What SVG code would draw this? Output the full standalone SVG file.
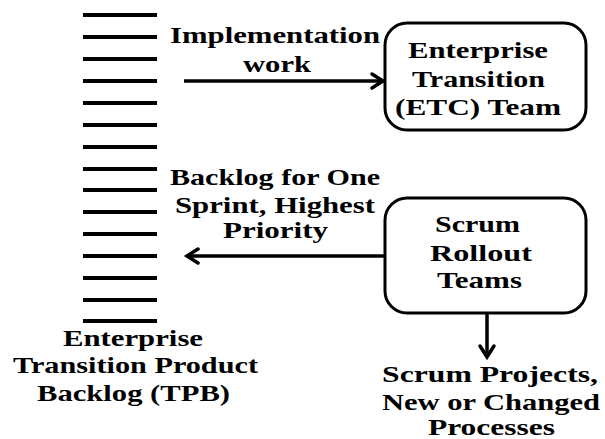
<svg xmlns="http://www.w3.org/2000/svg" width="605" height="439" viewBox="0 0 605 439">
<style>
text{font-family:"Liberation Serif","Times New Roman",Tinos,serif;font-weight:bold;font-size:24px;fill:#000;text-anchor:middle}
.box{fill:#fff;stroke:#000;stroke-width:3}
.bl{stroke:#000;stroke-width:4}
.conn{stroke:#000;stroke-width:3.5;fill:none}
.head{stroke:#000;stroke-width:3.5;fill:none;stroke-linecap:round;stroke-linejoin:miter}
</style>
<rect width="605" height="439" fill="#fff"/>
<g id="backlog">
<line class="bl" x1="83" y1="15" x2="157" y2="15"/>
<line class="bl" x1="83" y1="37" x2="157" y2="37"/>
<line class="bl" x1="83" y1="59" x2="157" y2="59"/>
<line class="bl" x1="83" y1="81" x2="157" y2="81"/>
<line class="bl" x1="83" y1="103" x2="157" y2="103"/>
<line class="bl" x1="83" y1="125" x2="157" y2="125"/>
<line class="bl" x1="83" y1="147" x2="157" y2="147"/>
<line class="bl" x1="83" y1="169" x2="157" y2="169"/>
<line class="bl" x1="83" y1="190" x2="157" y2="190"/>
<line class="bl" x1="83" y1="212" x2="157" y2="212"/>
<line class="bl" x1="83" y1="234" x2="157" y2="234"/>
<line class="bl" x1="83" y1="256" x2="157" y2="256"/>
<line class="bl" x1="83" y1="278" x2="157" y2="278"/>
<line class="bl" x1="83" y1="300" x2="157" y2="300"/>
<line class="bl" x1="83" y1="321" x2="157" y2="321"/>
<text x="133" y="346" textLength="140" lengthAdjust="spacingAndGlyphs">Enterprise</text>
<text x="135.5" y="373" textLength="245" lengthAdjust="spacingAndGlyphs">Transition Product</text>
<text x="133.5" y="401" textLength="193" lengthAdjust="spacingAndGlyphs">Backlog (TPB)</text>
</g>
<g id="etc">
<rect class="box" x="385" y="23" width="201" height="107" rx="22" ry="22"/>
<text x="478" y="58" textLength="140" lengthAdjust="spacingAndGlyphs">Enterprise</text>
<text x="478.5" y="87" textLength="133" lengthAdjust="spacingAndGlyphs">Transition</text>
<text x="478" y="115" textLength="166" lengthAdjust="spacingAndGlyphs">(ETC) Team</text>
</g>
<g id="scrum">
<rect class="box" x="385" y="198" width="201" height="115" rx="22" ry="22"/>
<text x="477.5" y="232" textLength="85" lengthAdjust="spacingAndGlyphs">Scrum</text>
<text x="481" y="261" textLength="102" lengthAdjust="spacingAndGlyphs">Rollout</text>
<text x="479.5" y="288" textLength="85" lengthAdjust="spacingAndGlyphs">Teams</text>
</g>
<g id="outputs">
<text x="490" y="382" textLength="216" lengthAdjust="spacingAndGlyphs">Scrum Projects,</text>
<text x="491" y="410" textLength="218" lengthAdjust="spacingAndGlyphs">New or Changed</text>
<text x="491.5" y="435" textLength="127" lengthAdjust="spacingAndGlyphs">Processes</text>
</g>
<g id="connectors">
<line class="conn" x1="184" y1="81" x2="382" y2="81"/>
<polyline class="head" points="372,74 383,81 372,88"/>
<text x="275" y="43" textLength="210" lengthAdjust="spacingAndGlyphs">Implementation</text>
<text x="277" y="72" textLength="68" lengthAdjust="spacingAndGlyphs">work</text>
<line class="conn" x1="188" y1="256" x2="385" y2="256"/>
<polyline class="head" points="198,249 187,256 198,263"/>
<text x="275" y="185" textLength="210" lengthAdjust="spacingAndGlyphs">Backlog for One</text>
<text x="275" y="213" textLength="200" lengthAdjust="spacingAndGlyphs">Sprint, Highest</text>
<text x="275.5" y="238" textLength="105" lengthAdjust="spacingAndGlyphs">Priority</text>
<line class="conn" x1="487" y1="313" x2="487" y2="356"/>
<polyline class="head" points="480,346 487,357 494,346"/>
</g>
</svg>
